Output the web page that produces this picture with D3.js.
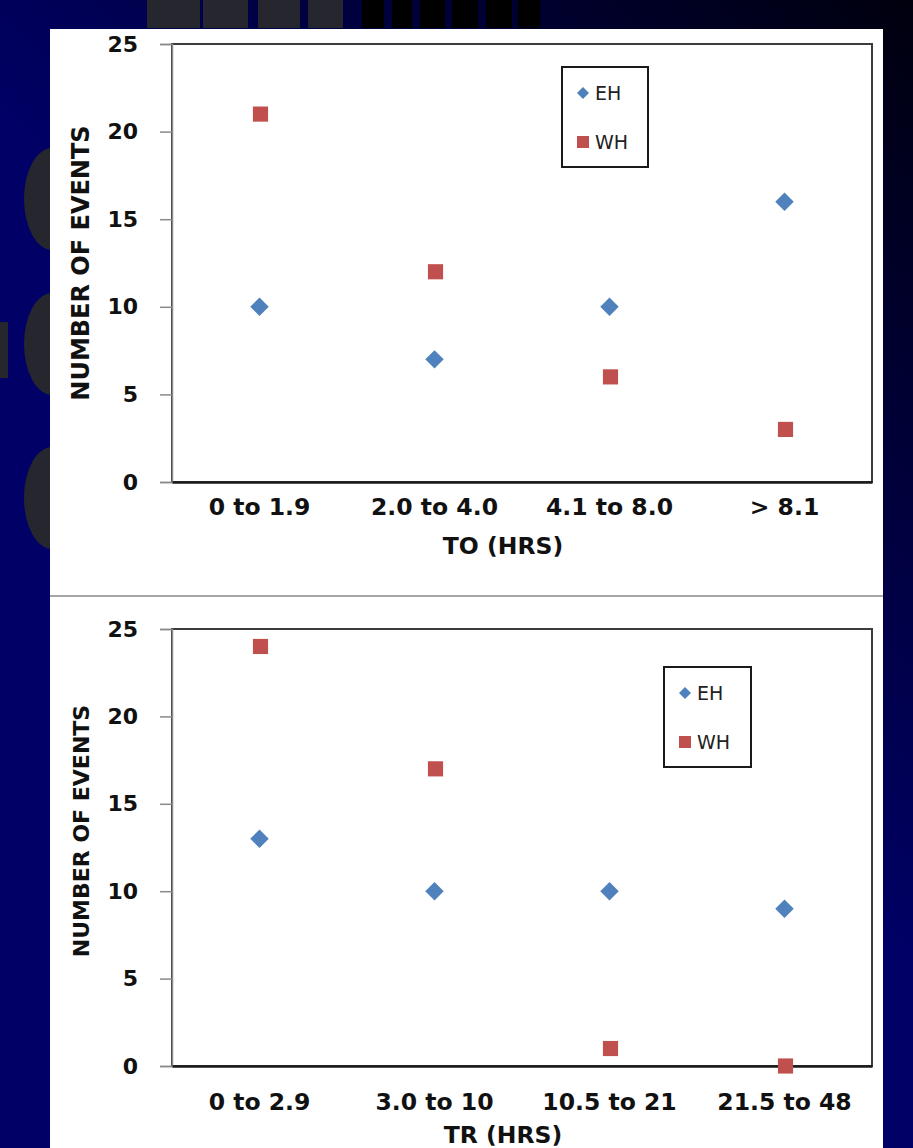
<!DOCTYPE html>
<html>
<head>
<meta charset="utf-8">
<script src="https://cdn.jsdelivr.net/npm/d3@7"></script>
<style>
    html, body { margin: 0; padding: 0; background: #000040; }
    svg { display: block; }
</style>
</head>
<body>
<svg id="chart" width="913" height="1148"></svg>
<script>
'use strict';

// chart values
const topCategories = ["0 to 1.9", "2.0 to 4.0", "4.1 to 8.0", "> 8.1"];
const topEH = [10, 7, 10, 16];
const topWH = [21, 12, 6, 3];

const bottomCategories = ["0 to 2.9", "3.0 to 10", "10.5 to 21", "21.5 to 48"];
const bottomEH = [13, 10, 10, 9];
const bottomWH = [24, 17, 1, 0];

const yTicks = [0, 5, 10, 15, 20, 25];
const seriesNames = ["EH", "WH"];
const seriesColors = ["#4f81bd", "#c0504d"];

const FONT = "'DejaVu Sans', 'Liberation Sans', sans-serif";

const svg = d3.select('#chart');

// slide background
const defs = svg.append('defs');
const grad = defs.append('linearGradient')
    .attr('id', 'bg')
    .attr('gradientUnits', 'userSpaceOnUse')
    .attr('x1', 913).attr('y1', 0)
    .attr('x2', 430).attr('y2', 520);
grad.append('stop').attr('offset', 0).attr('stop-color', '#00000e');
grad.append('stop').attr('offset', 1).attr('stop-color', '#000066');

svg.append('rect')
    .attr('width', 913).attr('height', 1148)
    .attr('fill', 'url(#bg)');

// faint title shapes behind the chart
const deco = svg.append('g');
[[147, 200], [203, 248], [258, 300], [308, 343]].forEach(([a, b]) => {
    deco.append('rect').attr('x', a).attr('y', 0).attr('width', b - a).attr('height', 28).attr('fill', '#26262f');
});
[[362, 384], [392, 412], [420, 445], [452, 478], [486, 512], [518, 540]].forEach(([a, b]) => {
    deco.append('rect').attr('x', a).attr('y', 0).attr('width', b - a).attr('height', 28).attr('fill', '#000000');
});
[199, 344, 498].forEach((cy) => {
    deco.append('ellipse').attr('cx', 52).attr('cy', cy).attr('rx', 28).attr('ry', 51).attr('fill', '#26262f');
});
deco.append('rect').attr('x', 0).attr('y', 322).attr('width', 8).attr('height', 56).attr('fill', '#26262f');

// white chart panel
svg.append('rect')
    .attr('x', 50).attr('y', 29)
    .attr('width', 833).attr('height', 1119)
    .attr('fill', '#ffffff');

svg.append('line')
    .attr('x1', 50).attr('x2', 883)
    .attr('y1', 596).attr('y2', 596)
    .attr('stroke', '#a6a6a6')
    .attr('stroke-width', 2);

const panels = [
    {
        categories: topCategories, values: [topEH, topWH], title: "TO (HRS)",
        yTop: 44, yBottom: 482, labelPad: 16, titleY: 554,
        yTitleY: 263, yTitleSize: 24,
        legend: {x: 562, y: 67, w: 86, h: 100}
    },
    {
        categories: bottomCategories, values: [bottomEH, bottomWH], title: "TR (HRS)",
        yTop: 629, yBottom: 1066, labelPad: 27, titleY: 1143,
        yTitleY: 831, yTitleSize: 22,
        legend: {x: 664, y: 667, w: 87, h: 100}
    }
];

const left = 172, right = 872;

// diamonds are squares turned by 45 degrees
const diamond = (size) => d3.symbol().type(d3.symbolSquare).size(size);
const square = (size) => d3.symbol().type(d3.symbolSquare).size(size);

function drawPanel(p) {
    const g = svg.append('g');

    const x = d3.scaleBand()
        .domain(p.categories)
        .range([left, right])
        .padding(0);

    const y = d3.scaleLinear()
        .domain([0, 25])
        .range([p.yBottom, p.yTop]);

    // plot frame
    g.append('rect')
        .attr('x', left).attr('y', p.yTop)
        .attr('width', right - left).attr('height', p.yBottom - p.yTop)
        .attr('fill', 'none')
        .attr('stroke', '#3c3c3c')
        .attr('stroke-width', 2);

    // y axis
    const yAxis = g.append('g')
        .attr('transform', `translate(${left},0)`)
        .call(d3.axisLeft(y).tickValues(yTicks).tickSize(12).tickPadding(22));
    yAxis.select('.domain').attr('stroke', '#8a8a8a').attr('stroke-width', 1.5);
    yAxis.selectAll('.tick line').attr('stroke', '#8a8a8a').attr('stroke-width', 1.5);
    yAxis.selectAll('.tick text')
        .attr('fill', '#111')
        .style('font-family', FONT)
        .style('font-weight', 'bold')
        .style('font-size', '22px');

    // x axis
    const xAxis = g.append('g')
        .attr('transform', `translate(0,${p.yBottom})`)
        .call(d3.axisBottom(x).tickSize(0).tickPadding(p.labelPad));
    xAxis.select('.domain').attr('stroke', '#1a1a1a').attr('stroke-width', 2.5);
    xAxis.selectAll('.tick text')
        .attr('fill', '#111')
        .style('font-family', FONT)
        .style('font-weight', 'bold')
        .style('font-size', '23.5px');

    // axis titles
    g.append('text')
        .attr('x', 503).attr('y', p.titleY)
        .attr('text-anchor', 'middle')
        .attr('fill', '#111')
        .style('font-family', FONT)
        .style('font-weight', 'bold')
        .style('font-size', '23.5px')
        .text(p.title);

    g.append('text')
        .attr('transform', `translate(89,${p.yTitleY}) rotate(-90)`)
        .attr('text-anchor', 'middle')
        .attr('fill', '#111')
        .style('font-family', FONT)
        .style('font-weight', 'bold')
        .style('font-size', p.yTitleSize + 'px')
        .text('NUMBER OF EVENTS');

    const cx = (c) => x(c) + x.bandwidth() / 2;

    // EH diamonds
    g.append('g').selectAll('path')
        .data(p.categories.map((c, i) => ({c, v: p.values[0][i]})))
        .enter()
        .append('path')
        .attr('d', diamond(170))
        .attr('transform', (d) => `translate(${cx(d.c)},${y(d.v)}) rotate(45)`)
        .attr('fill', seriesColors[0]);

    // WH squares
    g.append('g').selectAll('path')
        .data(p.categories.map((c, i) => ({c, v: p.values[1][i]})))
        .enter()
        .append('path')
        .attr('d', square(230))
        .attr('transform', (d) => `translate(${cx(d.c) + 1},${y(d.v)})`)
        .attr('fill', seriesColors[1]);

    // legend
    const L = p.legend;
    const lg = g.append('g');
    lg.append('rect')
        .attr('x', L.x).attr('y', L.y)
        .attr('width', L.w).attr('height', L.h)
        .attr('fill', '#fff')
        .attr('stroke', '#1a1a1a')
        .attr('stroke-width', 2);

    seriesNames.forEach((name, i) => {
        const ly = L.y + 26 + i * 49;
        lg.append('path')
            .attr('d', i === 0 ? diamond(72) : square(144))
            .attr('transform', `translate(${L.x + 21},${ly})` + (i === 0 ? ' rotate(45)' : ''))
            .attr('fill', seriesColors[i]);
        lg.append('text')
            .attr('x', L.x + 33).attr('y', ly)
            .attr('dy', '0.36em')
            .attr('fill', '#222')
            .style('font-family', FONT)
            .style('font-size', '19px')
            .text(name);
    });
}

panels.forEach(drawPanel);
</script>
</body>
</html>
